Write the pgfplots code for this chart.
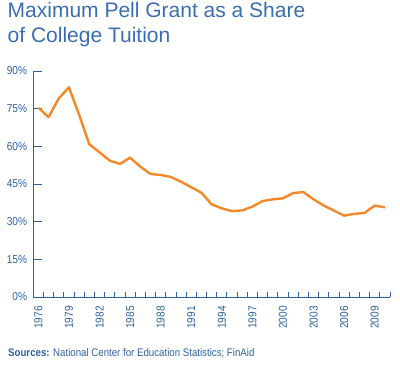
\documentclass[border=0pt]{standalone}
\usepackage{fontspec}
\setmainfont{Liberation Sans}
\newfontfamily\cond[FakeStretch=0.88]{Liberation Sans}
\usepackage{pgfplots}
\pgfplotsset{compat=1.18}
\definecolor{axblue}{HTML}{2D62A3}
\definecolor{titleblue}{HTML}{3A6EB0}
\definecolor{lineorange}{HTML}{F5892A}
\begin{document}
\begin{tikzpicture}
\useasboundingbox (0bp,0bp) rectangle (400bp,376bp);
\node[anchor=base west, inner sep=0pt, text=titleblue, font=\fontsize{21bp}{24bp}\selectfont] at (7.5bp,358.7bp) {Maximum Pell Grant as a Share};
\node[anchor=base west, inner sep=0pt, text=titleblue, font=\fontsize{21bp}{24bp}\selectfont] at (7.5bp,333.3bp) {of College Tuition};
\node[anchor=base west, inner sep=0pt, text=axblue, font=\cond\fontsize{11bp}{13bp}\selectfont] at (8bp,19.3bp) {\textbf{Sources:} National Center for Education Statistics; FinAid};
\begin{axis}[
  at={(33.3bp,79bp)}, anchor=south west,
  scale only axis, width=356.7bp, height=226bp,
  xmin=1975.5, xmax=2010.5, ymin=0, ymax=90,
  axis lines=left,
  axis line style={-, draw=axblue, line width=0.9bp},
  xtick={1976,1979,...,2009},
  minor xtick={1975.5,1976.5,...,2010.5},
  major x tick style={draw=none},
  minor x tick style={draw=axblue, line width=0.9bp},
  minor tick length=5bp,
  ytick={0,15,...,90},
  major y tick style={draw=axblue, line width=0.9bp},
  major tick length=9bp,
  tick align=inside,
  yticklabels={0\%,15\%,30\%,45\%,60\%,75\%,90\%},
  xticklabels={1976,1979,1982,1985,1988,1991,1994,1997,2000,2003,2006,2009},
  xticklabel style={rotate=90, anchor=east, inner sep=0pt, text=axblue, font=\cond\fontsize{11.5bp}{13bp}\selectfont},
  yticklabel style={anchor=east, inner sep=0pt, text=axblue, font=\cond\fontsize{11.5bp}{13bp}\selectfont},
  xticklabel shift=9bp,
  yticklabel shift=6bp,
  clip=false,
]
\addplot[lineorange, line width=2.4bp, mark=none, line join=round] coordinates {
(1976,75.4) (1977,71.6) (1978,79.1) (1979,83.5) (1980,72.5) (1981,60.8)
(1982,57.6) (1983,54.3) (1984,53.0) (1985,55.5) (1986,51.9) (1987,49.0)
(1988,48.6) (1989,47.8) (1990,45.9) (1991,43.7) (1992,41.5) (1993,36.9)
(1994,35.3) (1995,34.2) (1996,34.5) (1997,36.0) (1998,38.2) (1999,38.9)
(2000,39.3) (2001,41.4) (2002,41.8) (2003,38.9) (2004,36.4) (2005,34.4)
(2006,32.4) (2007,33.1) (2008,33.5) (2009,36.4) (2010,35.7)
};
\end{axis}
\end{tikzpicture}
\end{document}
